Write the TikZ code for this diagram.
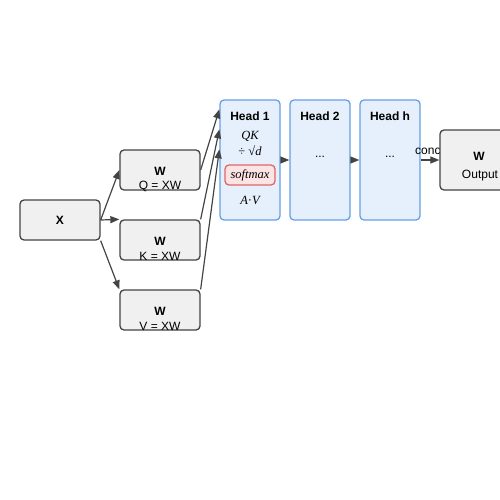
\documentclass[tikz,border=0pt]{standalone}
\usepackage{fontspec}
\setmainfont{Liberation Sans}
\newfontfamily\serifit{Liberation Serif}
\usetikzlibrary{arrows.meta,calc}
\definecolor{gbox}{HTML}{F0F0F0}
\definecolor{gline}{HTML}{444444}
\definecolor{hfill}{HTML}{E6F0FC}
\definecolor{hline}{HTML}{66A0E6}
\definecolor{sfill}{HTML}{FDE4E4}
\definecolor{sline}{HTML}{E06666}
\begin{document}
\begin{tikzpicture}[x=1pt,y=-1pt,
  gbx/.style={draw=gline,fill=gbox,line width=1.3pt,rounded corners=4pt,minimum width=80pt,minimum height=40pt,inner sep=0pt},
  headbox/.style={draw=hline,fill=hfill,line width=1.3pt,rounded corners=4pt,minimum width=60pt,minimum height=120pt,inner sep=0pt},
  lbl/.style={font=\fontsize{12}{14}\selectfont,inner sep=0pt},
  blbl/.style={font=\fontsize{12}{14}\selectfont\bfseries,inner sep=0pt},
  mlbl/.style={font=\fontsize{12.5}{14}\selectfont\serifit\itshape,inner sep=0pt},
  conn/.style={draw=gline,line width=1.2pt,-{Triangle[length=9pt,width=7pt]}}]
\useasboundingbox (0,0) rectangle (500,500);
% boxes
\node[gbx] (x) at (60,220) {};
\node[blbl] (xl) at (60,220) {X};
\node[gbx] (wq) at (160,170) {};
\node[gbx] (wk) at (160,240) {};
\node[gbx] (wv) at (160,310) {};
\node[blbl] (wql) at (160,171) {W};
\node[lbl] (wqs) at (160,186) {Q = XW};
\node[blbl] (wkl) at (160,241) {W};
\node[lbl] (wks) at (160,256) {K = XW};
\node[blbl] (wvl) at (160,311) {W};
\node[lbl] (wvs) at (160,326) {V = XW};
% heads
\node[headbox] (h1) at (250,160) {};
\node[headbox] (h2) at (320,160) {};
\node[headbox] (hh) at (390,160) {};
\node[blbl] (h1t) at (250,116) {Head 1};
\node[blbl] (h2t) at (320,116) {Head 2};
\node[blbl] (hht) at (390,116) {Head h};
\node[mlbl] (qk) at (250,136) {QK};
\node[mlbl] (dv) at (250,151) {\upshape ÷ √\itshape d};
\node[draw=sline,fill=sfill,line width=1.3pt,rounded corners=4pt,minimum width=50pt,minimum height=20pt,inner sep=0pt,font=\fontsize{12.5}{14}\selectfont\serifit\itshape] (sm) at (250,175) {softmax};
\node[mlbl] (av) at (250,200) {A\upshape·\itshape V};
\node[lbl] (d2) at (320,157) {...};
\node[lbl] (dh) at (390,157) {...};
% concat label (partly hidden by output box)
\node[lbl,anchor=west] (concat) at (415,151) {concat};
% output
\node[gbx,minimum height=60pt] (out) at (480,160) {};
\node[blbl] (outw) at (479,156) {W};
\node[lbl] (outl) at (480,176) {Output};
% connectors
\draw[conn] (x.east) -- (wq.west);
\draw[conn] (x.east) -- (wk.north west);
\draw[conn] (x.south east) -- (wv.north west);
\draw[conn] (wq.east) -- ($(h1.north west)+(0,10)$);
\draw[conn] (wk.north east) -- ($(h1.north west)+(0,30)$);
\draw[conn] (wv.north east) -- ($(h1.north west)+(0,50)$);
\draw[conn] (h1.east) -- (h2.west);
\draw[conn] (h2.east) -- (hh.west);
\draw[conn] (hh.east) -- (out.west);
\end{tikzpicture}
\end{document}
